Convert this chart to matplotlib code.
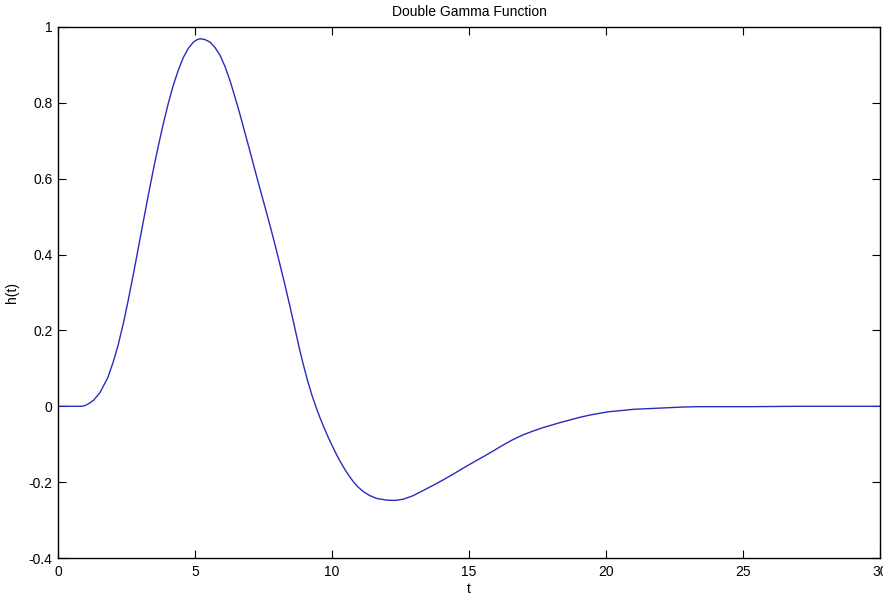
import matplotlib
matplotlib.use("Agg")
import matplotlib.pyplot as plt

# values
t_vals = [0.0, 0.5, 0.85, 0.95, 1.1, 1.3, 1.53, 1.82, 2.02, 2.19, 2.38, 2.55, 2.75,
          2.93, 3.11, 3.3, 3.48, 3.66, 3.84, 4.03, 4.21, 4.4, 4.57, 4.75, 4.94, 5.06,
          5.18, 5.36, 5.55, 5.73, 5.91, 6.1, 6.28, 6.46, 6.64, 6.82, 7.01, 7.19, 7.37,
          7.56, 7.74, 7.92, 8.1, 8.29, 8.47, 8.65, 8.83, 8.95, 9.1, 9.26, 9.42, 9.56,
          9.72, 9.87, 10.02, 10.17, 10.32, 10.47, 10.62, 10.78, 10.96, 11.14, 11.38,
          11.63, 12.0, 12.3, 12.6, 12.95, 13.33, 13.7, 14.06, 14.42, 14.79, 15.15,
          15.52, 15.9, 16.25, 16.6, 16.98, 17.35, 17.71, 18.0, 18.32, 18.69, 19.05,
          19.42, 19.8, 20.15, 20.6, 21.0, 21.6, 22.2, 22.8, 23.4, 25.3, 27.0, 30.0]
h_vals = [0.0, 0.0, 0.0, 0.001, 0.006, 0.016, 0.036, 0.076, 0.118, 0.160, 0.217, 0.275, 0.348,
          0.417, 0.486, 0.558, 0.624, 0.686, 0.744, 0.800, 0.847, 0.888, 0.919, 0.943, 0.960, 0.966,
          0.969, 0.967, 0.960, 0.946, 0.926, 0.895, 0.858, 0.815, 0.770, 0.722, 0.671, 0.622, 0.574,
          0.524, 0.476, 0.426, 0.374, 0.318, 0.262, 0.204, 0.146, 0.111, 0.070, 0.031, -0.003, -0.030,
          -0.058, -0.083, -0.106, -0.128, -0.148, -0.1665, -0.183, -0.199, -0.2135, -0.2247, -0.2355,
          -0.243, -0.2475, -0.2482, -0.245, -0.236, -0.222, -0.208, -0.194, -0.179, -0.163, -0.148,
          -0.133, -0.117, -0.102, -0.088, -0.075, -0.065, -0.056, -0.050, -0.043, -0.036, -0.029,
          -0.023, -0.018, -0.014, -0.011, -0.008, -0.006, -0.004, -0.002, -0.001, -0.001, 0.0, 0.0]
x_ticks = [0, 5, 10, 15, 20, 25, 30]
y_ticks = [-0.4, -0.2, 0, 0.2, 0.4, 0.6, 0.8, 1]
y_tick_labels = ["-0.4", "-0.2", "0", "0.2", "0.4", "0.6", "0.8", "1"]

plt.rcParams['font.family'] = ['Liberation Sans', 'DejaVu Sans']

fig = plt.figure(figsize=(8.83, 5.98), dpi=100)
ax = fig.add_axes([58/883, 40/598, 822/883, 531/598])
ax.plot(t_vals, h_vals, color='#2a2abf', linewidth=1.0)
ax.set_xlim(0, 30)
ax.set_ylim(-0.4, 1)
ax.set_xticks(x_ticks)
ax.set_xticklabels([str(v) for v in x_ticks])
ax.set_yticks(y_ticks)
ax.set_yticklabels(y_tick_labels)
ax.tick_params(direction='in', length=6, width=0.8, top=True, right=True,
               labelsize=10, colors='black')
ax.tick_params(axis='x', pad=5)
ax.tick_params(axis='y', pad=4)
for s in ax.spines.values():
    s.set_linewidth(1.0)
    s.set_color('black')
ax.set_title('Double Gamma Function', fontsize=10, pad=8)
ax.set_xlabel('t', fontsize=10, labelpad=2)
ax.set_ylabel('h(t)', fontsize=10, labelpad=7)
fig.savefig('out.png', dpi=100)
